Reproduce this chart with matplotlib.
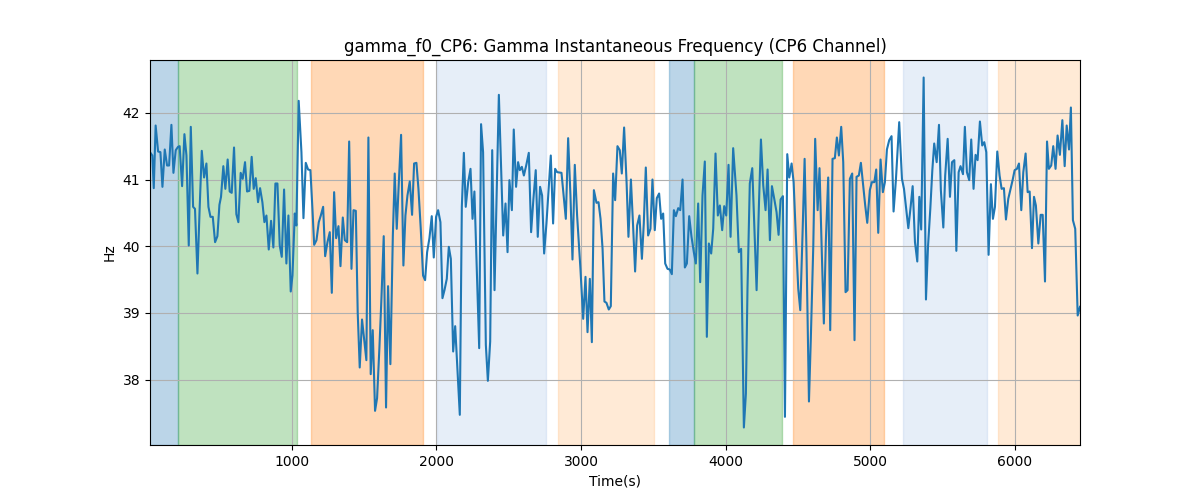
import numpy as np
import matplotlib
matplotlib.use("Agg")
import matplotlib.pyplot as plt

# instantaneous gamma frequency, split into chunks
t_a = [20, 36, 46, 59, 76, 92, 106, 122, 138, 152, 168, 182, 198, 214, 225, 242, 258, 272, 288, 302,
       318, 331, 348, 364, 378, 394, 410, 424, 438, 454, 470, 486, 500, 511, 527, 541, 557, 571, 585, 601,
       617, 631, 647, 661, 677, 691, 707, 723, 737, 751, 767, 781, 797, 811, 825, 841, 857, 873, 887, 901,
       917, 931, 947, 963, 977, 993, 1005, 1021, 1032, 1048]
f_a = [41.41, 41.36, 40.87, 41.81, 41.42, 41.41, 40.89, 41.45, 41.21, 41.21, 41.82, 41.10, 41.44, 41.49, 41.50, 40.90, 41.68, 41.36, 40.01, 41.79,
       40.59, 40.56, 39.59, 40.61, 41.43, 41.03, 41.24, 40.59, 40.44, 40.44, 40.06, 40.15, 40.62, 40.74, 41.20, 40.86, 41.30, 40.82, 40.80, 41.48,
       40.48, 40.36, 41.10, 41.01, 41.26, 40.82, 40.83, 41.34, 40.86, 41.02, 40.66, 40.87, 40.66, 40.36, 40.46, 39.95, 40.38, 39.98, 40.94, 40.94,
       40.01, 39.84, 40.85, 39.74, 40.46, 39.32, 39.56, 40.49, 40.31, 42.18]

t_b = [1067, 1081, 1097, 1113, 1129, 1143, 1155, 1171, 1187, 1201, 1217, 1231, 1247, 1263, 1277, 1293, 1307, 1323, 1337, 1353,
       1367, 1383, 1397, 1413, 1427, 1443, 1456, 1470, 1486, 1500, 1516, 1530, 1546, 1560, 1576, 1590, 1606, 1620, 1636, 1652,
       1666, 1682, 1699, 1712, 1726, 1740, 1756, 1772, 1786, 1800, 1816, 1832, 1846, 1862, 1876, 1892, 1908, 1922, 1936, 1952,
       1968, 1982, 1998, 2012, 2028, 2042, 2056, 2072, 2086]
f_b = [41.41, 40.42, 41.25, 41.15, 41.14, 40.56, 40.02, 40.09, 40.36, 40.46, 40.59, 39.85, 40.06, 40.21, 39.30, 40.81, 40.12, 40.30, 39.70, 40.43,
       40.09, 40.06, 41.57, 39.66, 40.54, 40.53, 39.01, 38.18, 38.90, 38.61, 38.29, 41.63, 38.08, 38.74, 37.53, 37.72, 38.47, 39.21, 40.15, 37.58,
       39.40, 38.23, 40.16, 41.09, 40.26, 40.94, 41.67, 39.71, 40.46, 40.76, 40.97, 40.47, 41.24, 41.25, 40.86, 40.26, 39.56, 39.49, 39.91, 40.12,
       40.45, 39.83, 40.44, 40.54, 40.36, 39.22, 39.34, 39.51, 39.99]

t_c = [2100, 2116, 2130, 2162, 2176, 2190, 2203, 2220, 2236, 2250, 2263, 2296, 2309, 2323, 2342, 2356, 2372, 2386, 2402, 2432,
       2462, 2478, 2492, 2505, 2522, 2535, 2551, 2565, 2577, 2591, 2605, 2621, 2639, 2655, 2671, 2687, 2701, 2717, 2731, 2745,
       2761, 2791, 2807, 2821, 2835, 2865, 2895, 2911, 2927, 2941, 2957, 2973, 2996, 3015, 3031, 3045, 3061, 3075, 3089, 3107,
       3121]
f_c = [39.81, 38.42, 38.80, 37.47, 40.59, 41.40, 40.59, 40.96, 41.16, 40.41, 40.82, 38.47, 41.83, 41.41, 38.52, 37.98, 38.57, 41.44, 39.34, 42.27,
       40.16, 40.64, 39.91, 40.99, 40.54, 41.75, 40.89, 41.26, 41.14, 41.19, 41.06, 41.21, 41.40, 40.21, 40.71, 41.14, 40.14, 40.89, 40.76, 39.89,
       40.34, 41.36, 40.34, 41.16, 41.11, 41.10, 40.41, 41.62, 40.76, 39.80, 41.22, 40.46, 39.66, 38.91, 39.54, 38.71, 39.51, 38.56, 40.84, 40.65,
       40.66]

t_d = [3135, 3149, 3162, 3176, 3192, 3206, 3222, 3236, 3252, 3268, 3282, 3298, 3315, 3328, 3345, 3361, 3374, 3388, 3404, 3421,
       3434, 3448, 3464, 3480, 3494, 3510, 3524, 3540, 3554, 3568, 3582, 3598, 3614, 3628, 3642, 3656, 3672, 3686, 3702, 3718,
       3732, 3748, 3764, 3780, 3794, 3810, 3824, 3840, 3856, 3870, 3884, 3900, 3914, 3930, 3946, 3960, 3976, 3990, 4004, 4020,
       4034, 4052, 4075, 4091, 4107, 4126, 4140, 4151, 4167]
f_d = [40.41, 39.96, 39.17, 39.15, 39.05, 39.10, 41.09, 40.69, 41.50, 41.44, 41.09, 41.78, 40.96, 40.14, 41.00, 40.26, 39.62, 40.31, 40.46, 39.81,
       40.34, 41.18, 40.16, 40.26, 41.00, 40.24, 40.72, 40.79, 40.41, 40.49, 39.74, 39.66, 39.65, 39.58, 40.54, 40.45, 40.57, 40.54, 41.00, 39.68,
       39.74, 40.45, 40.14, 39.91, 39.74, 40.64, 39.46, 40.76, 41.27, 38.64, 40.04, 39.89, 40.26, 41.39, 40.46, 40.61, 40.24, 40.60, 40.46, 41.22,
       40.14, 41.47, 40.76, 39.91, 39.96, 37.28, 37.79, 39.36, 40.94]

t_e = [4184, 4214, 4230, 4244, 4260, 4276, 4290, 4306, 4320, 4336, 4352, 4366, 4380, 4396, 4410, 4426, 4440, 4456, 4470, 4486,
       4502, 4516, 4532, 4546, 4559, 4576, 4589, 4606, 4619, 4636, 4649, 4665, 4679, 4693, 4709, 4723, 4739, 4755, 4769, 4783,
       4799, 4813, 4829, 4843, 4859, 4875, 4891, 4905, 4921, 4935, 4951, 4965, 4979, 4997, 5011, 5028, 5041, 5055, 5071, 5087,
       5101, 5115, 5131, 5147, 5161, 5177, 5200]
f_e = [41.17, 39.34, 40.61, 41.60, 40.91, 40.54, 41.15, 40.09, 40.90, 40.71, 40.51, 40.17, 40.70, 40.75, 37.44, 41.38, 41.03, 41.24, 40.96, 40.11,
       39.36, 39.04, 40.21, 41.31, 39.91, 37.67, 38.62, 40.01, 41.61, 40.54, 41.17, 39.89, 38.84, 40.09, 41.03, 38.74, 41.31, 41.32, 41.63, 41.36,
       41.79, 41.26, 39.31, 39.34, 41.01, 41.09, 38.59, 41.04, 41.06, 41.25, 40.91, 40.61, 40.35, 40.84, 40.96, 40.96, 41.15, 40.20, 41.30, 40.81,
       40.96, 41.45, 41.59, 41.65, 40.52, 40.99, 41.86]

t_f = [5219, 5233, 5249, 5263, 5279, 5293, 5309, 5325, 5339, 5352, 5369, 5385, 5399, 5415, 5429, 5442, 5459, 5475, 5488, 5505,
       5518, 5535, 5551, 5565, 5581, 5595, 5611, 5624, 5641, 5654, 5668, 5684, 5698, 5714, 5728, 5742, 5758, 5774, 5788, 5802,
       5818, 5834, 5848, 5862, 5878, 5894, 5908, 5924, 5938, 5954, 5968, 5984, 5998, 6014, 6028, 6044, 6058, 6074, 6088, 6102,
       6118, 6132, 6145, 6162, 6178, 6192, 6208, 6222, 6235, 6251, 6265, 6281, 6295, 6311, 6328, 6344, 6358, 6374, 6387, 6401,
       6417, 6434, 6450]
f_f = [41.01, 40.86, 40.54, 40.27, 40.59, 40.90, 40.06, 39.77, 40.74, 40.25, 42.53, 39.20, 39.99, 40.56, 41.14, 41.54, 41.26, 41.82, 40.84, 40.28,
       41.06, 41.61, 40.74, 41.26, 41.29, 39.93, 41.11, 41.20, 41.08, 41.79, 41.11, 40.99, 41.60, 40.86, 41.37, 41.29, 41.87, 41.51, 41.56, 41.41,
       39.87, 40.93, 40.41, 40.59, 41.42, 41.06, 40.86, 40.87, 40.40, 40.71, 40.84, 40.99, 41.14, 41.16, 41.24, 40.54, 41.11, 41.39, 40.81, 40.82,
       39.97, 40.74, 40.61, 40.04, 40.47, 40.47, 39.47, 41.57, 41.16, 41.21, 41.50, 41.16, 41.66, 41.37, 41.89, 41.20, 41.81, 41.45, 42.08, 40.39,
       40.26, 38.96, 39.09]

# shaded segments: start, end, colour
span_start = [0, 217, 1132, 2007, 2840, 3607, 3780, 4467, 5224, 5882]
span_end = [217, 1037, 1908, 2761, 3508, 3780, 4387, 5096, 5809, 6500]
span_color = ["tab:blue", "tab:green", "tab:orange", "#aec7e8", "#ffbb78",
              "tab:blue", "tab:green", "tab:orange", "#aec7e8", "#ffbb78"]

time = np.concatenate([t_a, t_b, t_c, t_d, t_e, t_f])
freq = np.concatenate([f_a, f_b, f_c, f_d, f_e, f_f])

fig, ax = plt.subplots(figsize=(12, 5), dpi=100)

for s, e, c in zip(span_start, span_end, span_color):
    ax.axvspan(s, e, color=c, alpha=0.3)

ax.plot(time, freq, color="tab:blue")
ax.set_xlim(time[0], time[-1])
ax.grid(True)
ax.set_title("gamma_f0_CP6: Gamma Instantaneous Frequency (CP6 Channel)")
ax.set_xlabel("Time(s)")
ax.set_ylabel("Hz")

fig.savefig("out.png")
